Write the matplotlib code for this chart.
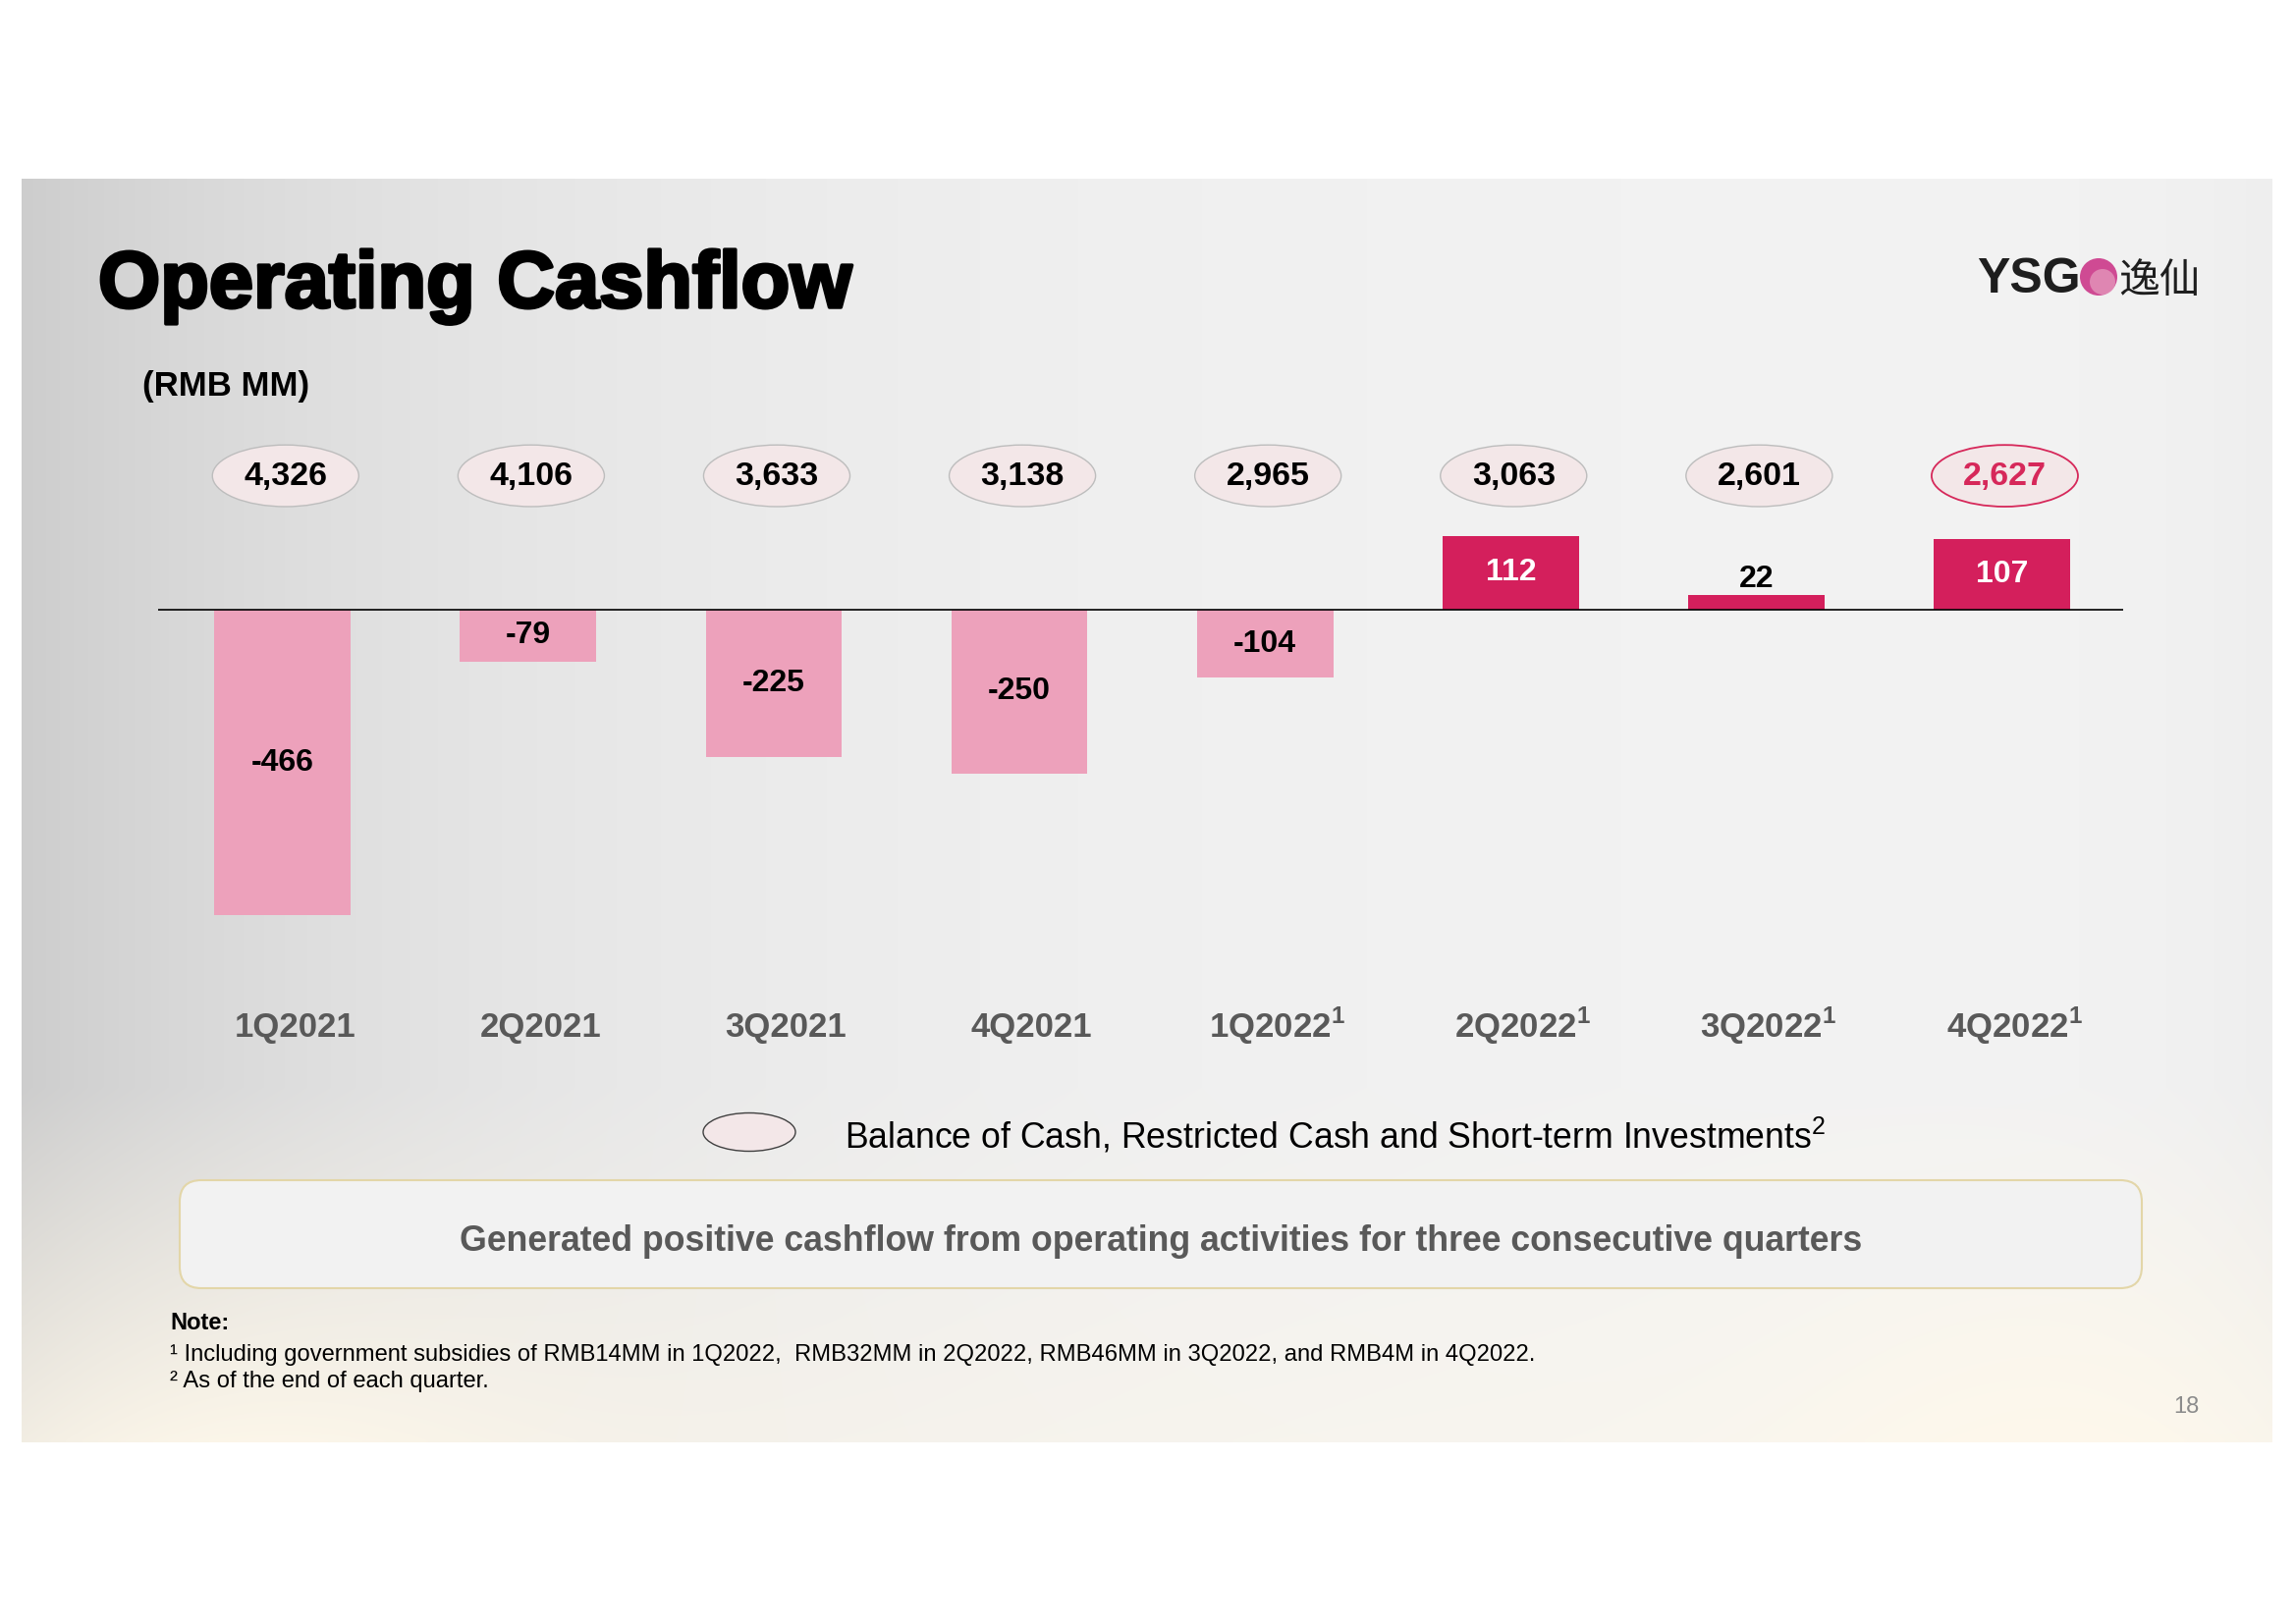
import numpy as np
import matplotlib.pyplot as plt
import matplotlib.patheffects as pe
from matplotlib.patches import Ellipse, FancyBboxPatch, Circle

plt.rcParams['font.family'] = ['Liberation Sans', 'Noto Sans CJK SC', 'DejaVu Sans']
plt.rcParams['mathtext.fontset'] = 'custom'
plt.rcParams['mathtext.rm'] = 'Liberation Sans'
plt.rcParams['mathtext.bf'] = 'Liberation Sans:bold'

# data
quarters = ["1Q2021", "2Q2021", "3Q2021", "4Q2021",
            r"1Q2022$^{\mathbf{1}}$", r"2Q2022$^{\mathbf{1}}$", r"3Q2022$^{\mathbf{1}}$", r"4Q2022$^{\mathbf{1}}$"]
op_cashflow = [-466, -79, -225, -250, -104, 112, 22, 107]
cash_balance = [4326, 4106, 3633, 3138, 2965, 3063, 2601, 2627]

neg_color = '#EDA1BB'
pos_color = '#D41F5C'
grey_txt = '#595959'

W, H = 2338, 1653
fig = plt.figure(figsize=(W / 100, H / 100), dpi=100)

# full-figure layer in pixel coords for the slide decoration
bg = fig.add_axes([0, 0, 1, 1])
bg.set_xlim(0, W)
bg.set_ylim(H, 0)
bg.axis('off')

# soft slide background: grey on the left, warm glow at the bottom
sx0, sx1, sy0, sy1 = 22, 2314, 182, 1469
xx = np.linspace(0, 1, 600)[None, :]
yy = np.linspace(0, 1, 340)[:, None]
grey = 0.955 - 0.15 * np.exp(-xx / 0.22) - 0.02 * np.exp(-(1 - xx) / 0.05)
grey = grey * np.ones_like(yy)
warm = np.clip((yy - 0.72) / 0.28, 0, 1) * (0.5 + 0.5 * np.exp(-((xx - 0.1) / 0.15) ** 2) + 0.5 * np.exp(-((xx - 0.9) / 0.12) ** 2))
warm = np.clip(warm, 0, 1)
img = np.dstack([grey + (1.0 - grey) * warm * 0.9,
                 grey + (0.975 - grey) * warm * 0.9,
                 grey + (0.92 - grey) * warm * 0.9])
img = np.clip(img, 0, 1)
bg.imshow(img, extent=(sx0, sx1, sy1, sy0), aspect='auto', interpolation='bilinear', zorder=0)

# title, unit, logo
bg.text(100, 313, "Operating Cashflow", fontsize=58.5, fontweight='bold', color='black', va='baseline', ha='left',
        path_effects=[pe.withStroke(linewidth=2.5, foreground='black')])
bg.text(145, 403, "(RMB MM)", fontsize=25, fontweight='bold', color='black', va='baseline', ha='left')
bg.text(2013, 298, "YSG", fontsize=36, fontweight='bold', color='#1E1E1E', va='baseline', ha='left')
bg.add_patch(Circle((2137, 282), 19, facecolor='#CF4A93', edgecolor='none', zorder=3))
bg.add_patch(Circle((2141, 287), 13, facecolor='#E6A0C0', edgecolor='none', alpha=0.7, zorder=3))
bg.text(2157, 298, "逸仙", fontsize=30, family='Noto Sans CJK SC', color='#1E1E1E', va='baseline', ha='left')

# bar chart
ax = fig.add_axes([161 / W, 0.4223, 2001 / W, 0.2708])
ax.patch.set_alpha(0)
ax.set_xlim(-0.507, 7.494)
ax.set_ylim(-500, 170)
for s in ax.spines.values():
    s.set_visible(False)
ax.set_xticks([])
ax.set_yticks([])

x = np.arange(len(quarters))
colors = [pos_color if v > 0 else neg_color for v in op_cashflow]
ax.bar(x, op_cashflow, width=0.555, color=colors, zorder=2)
ax.axhline(0, color='black', lw=1.2, zorder=3)

for i, v in enumerate(op_cashflow):
    if v < 0:
        ax.text(i, v / 2, f"{v}", ha='center', va='center', fontsize=23, fontweight='bold', color='black', zorder=4)
    elif v > 50:
        ax.text(i, v / 2, f"{v}", ha='center', va='center', fontsize=23, fontweight='bold', color='white', zorder=4)
    else:
        ax.text(i, v + 2, f"{v}", ha='center', va='bottom', fontsize=23, fontweight='bold', color='black', zorder=4)

for i, b in enumerate(cash_balance):
    last = i == len(cash_balance) - 1
    ec = '#D6285A' if last else '#BDBDBD'
    tc = '#D6285A' if last else 'black'
    ax.add_patch(Ellipse((i + 0.012, 204), 0.596, 94, facecolor='#F3E7E8', edgecolor=ec,
                         lw=1.3 if last else 1.0, clip_on=False, zorder=3))
    ax.text(i + 0.012, 203, f"{b:,}", ha='center', va='center', fontsize=24.5, fontweight='bold',
            color=tc, zorder=4, clip_on=False)

for i, q in enumerate(quarters):
    ax.text(i + 0.05, -652, q, ha='center', va='baseline', fontsize=25, fontweight='bold',
            color=grey_txt, clip_on=False)

# legend
bg.add_patch(Ellipse((763, 1153), 94, 39, facecolor='#F3E7E8', edgecolor='#404040', lw=1.0, zorder=3))
bg.text(860, 1169, r"Balance of Cash, Restricted Cash and Short-term Investments$^{2}$", fontsize=25.7,
        color='black', va='baseline', ha='left')

# takeaway box
bg.add_patch(FancyBboxPatch((183, 1202), 1998, 110, boxstyle="round,pad=0,rounding_size=22",
                            facecolor='#F2F2F2', edgecolor='#E3D6A8', lw=1.5, zorder=3))
bg.text(1182, 1264, "Generated positive cashflow from operating activities for three consecutive quarters",
        fontsize=25.7, fontweight='bold', color=grey_txt, ha='center', va='center', zorder=4)

# notes
bg.text(173, 1348, "Note:", fontsize=17, fontweight='bold', color='black', va='center', ha='left')
bg.text(173, 1380, "¹ Including government subsidies of RMB14MM in 1Q2022,  RMB32MM in 2Q2022, RMB46MM in 3Q2022, and RMB4M in 4Q2022.",
        fontsize=17.1, color='black', va='center', ha='left')
bg.text(173, 1407, "² As of the end of each quarter.", fontsize=17.1, color='black', va='center', ha='left')
bg.text(2226, 1433, "18", fontsize=17, color='#8C8C8C', va='center', ha='center')

fig.savefig('out.png', dpi=100)
